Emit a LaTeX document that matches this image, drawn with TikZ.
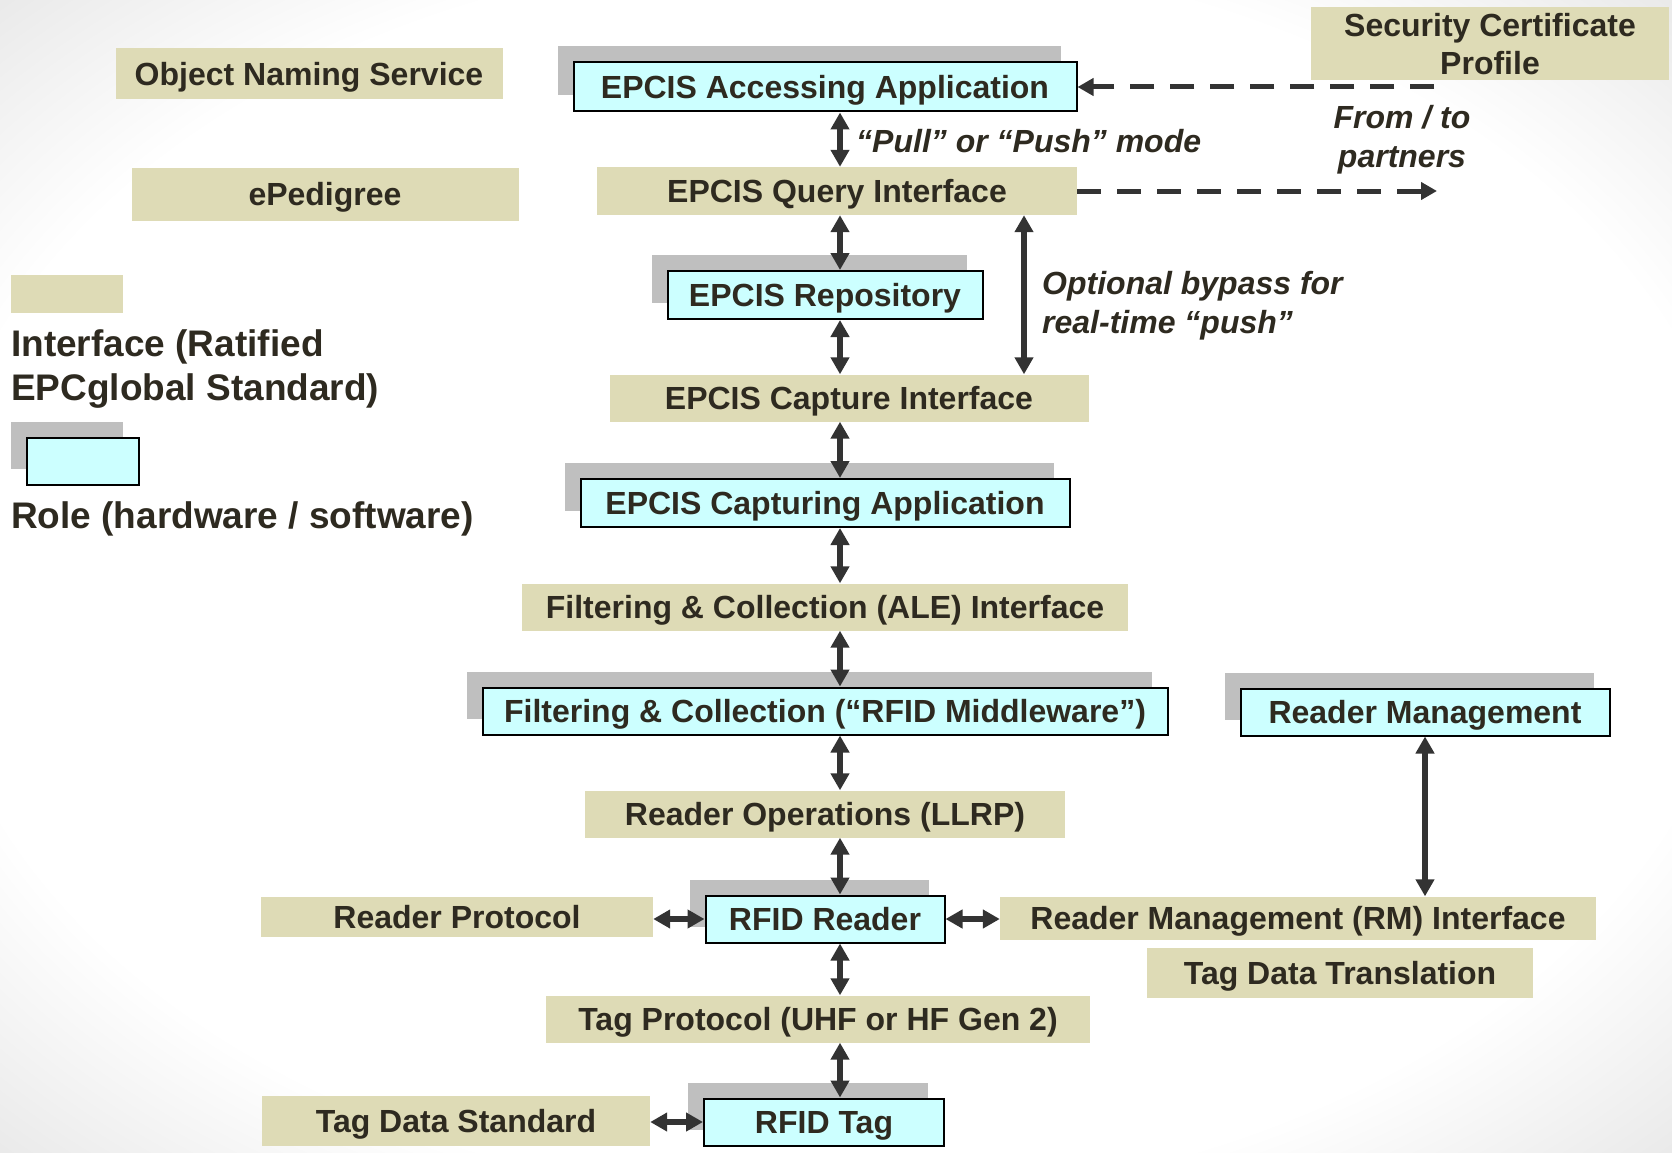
\documentclass[tikz,border=0pt]{standalone}
\usepackage{fontspec}
\setmainfont{Liberation Sans}
\usetikzlibrary{arrows.meta,shadows}
\definecolor{beige}{RGB}{222,219,182}
\definecolor{cyanbox}{RGB}{204,255,255}
\definecolor{shadowgray}{RGB}{191,191,191}
\definecolor{txt}{RGB}{46,42,32}
\definecolor{arrowgray}{RGB}{51,51,51}
\pgfdeclareradialshading{bgshade}{\pgfpoint{0bp}{0bp}}{color(0bp)=(white); color(27bp)=(white); color(36bp)=(black!9); color(50bp)=(black!9)}
\newcommand\boxfont{\fontsize{32}{38}\selectfont\bfseries}
\newcommand\italfont{\fontsize{32}{39}\selectfont\bfseries\itshape}
\newcommand\legfont{\fontsize{37}{44}\selectfont\bfseries}
\tikzset{
  iface/.style={fill=beige, inner sep=0pt, text=txt, font=\boxfont, align=center, text depth=0pt},
  role/.style={fill=cyanbox, draw=black, line width=2pt, inner sep=0pt, text=txt, font=\boxfont, text depth=0pt,
    drop shadow={shadow xshift=-16pt, shadow yshift=16pt, opacity=1, fill=shadowgray, draw=none}},
  link/.style={draw=arrowgray, line width=6pt, {Triangle[width=18pt,length=17pt]}-{Triangle[width=18pt,length=17pt]}},
  dasharrow/.style={draw=arrowgray, line width=5pt, dash pattern=on 24pt off 16pt, -{Triangle[width=17pt,length=16pt]}},
  lbl/.style={text=txt, font=\italfont, inner sep=0pt},
  legtxt/.style={text=txt, font=\legfont, inner sep=0pt, align=left}
}
\begin{document}
\begin{tikzpicture}[x=1pt,y=-1pt]
\useasboundingbox (0,0) rectangle (1672,1153);
\fill[white] (0,0) rectangle (1672,1153);
\shade[shading=bgshade] (0,0) rectangle (1672,1153);

% legend and side boxes
\node[iface, minimum width=387, minimum height=51] (ons) at (309,74) {Object Naming Service};
\node[iface, minimum width=387, minimum height=53] (ped) at (325,194) {ePedigree};
\node[iface, minimum width=358, minimum height=73] (sec) at (1490,44) {Security Certificate\\Profile};
\node[fill=beige, minimum width=112, minimum height=38, inner sep=0pt] (legif) at (67,294) {};
\node[legtxt, anchor=west] (legiftxt) at (11,369) {Interface (Ratified\\EPCglobal Standard)};
\node[role, minimum width=112, minimum height=47] (legrole) at (83,461) {};
\node[legtxt, anchor=west] (legroletxt) at (11,519) {Role (hardware / software)};

% main column
\node[role, minimum width=503, minimum height=49] (acc) at (825,87) {EPCIS Accessing Application};
\node[iface, minimum width=480, minimum height=48] (query) at (837,191) {EPCIS Query Interface};
\node[role, minimum width=315, minimum height=48] (repo) at (825,295) {EPCIS Repository};
\node[iface, minimum width=479, minimum height=47] (capture) at (849,398) {EPCIS Capture Interface};
\node[role, minimum width=489, minimum height=48] (capturing) at (825,503) {EPCIS Capturing Application};
\node[iface, minimum width=606, minimum height=47] (ale) at (825,607) {Filtering \& Collection (ALE) Interface};
\node[role, minimum width=685, minimum height=47] (mw) at (825,711) {Filtering \& Collection (“RFID Middleware”)};
\node[role, minimum width=369, minimum height=47] (rmgmt) at (1425,712) {Reader Management};
\node[iface, minimum width=480, minimum height=47] (llrp) at (825,814) {Reader Operations (LLRP)};
\node[role, minimum width=239, minimum height=47] (reader) at (825,919) {RFID Reader};
\node[iface, minimum width=392, minimum height=40] (rproto) at (457,917) {Reader Protocol};
\node[iface, minimum width=596, minimum height=43] (rmif) at (1298,918) {Reader Management (RM) Interface};
\node[iface, minimum width=386, minimum height=50] (tdt) at (1340,973) {Tag Data Translation};
\node[iface, minimum width=544, minimum height=47] (tagproto) at (818,1019) {Tag Protocol (UHF or HF Gen 2)};
\node[role, minimum width=240, minimum height=47] (tag) at (824,1122) {RFID Tag};
\node[iface, minimum width=388, minimum height=50] (tds) at (456,1121) {Tag Data Standard};

% labels
\node[lbl, anchor=west] (pull) at (856,141) {“Pull” or “Push” mode};
\node[lbl, align=center] (partnerslbl) at (1402,140) {From / to\\partners};
\node[lbl, align=left, anchor=west] (bypasslbl) at (1042,306) {Optional bypass for\\real-time “push”};

% coordinates
\coordinate (col) at (840,0);
\coordinate (bycol) at (1024,0);
\coordinate (secend) at (1434,87);
\coordinate (partners) at (1437,191);

% connectors
\draw[link] (acc.south -| col) -- (query.north -| col);
\draw[link] (query.south -| col) -- (repo.north -| col);
\draw[link] (repo.south -| col) -- (capture.north -| col);
\draw[link] (capture.south -| col) -- (capturing.north -| col);
\draw[link] (capturing.south -| col) -- (ale.north -| col);
\draw[link] (ale.south -| col) -- (mw.north -| col);
\draw[link] (mw.south -| col) -- (llrp.north -| col);
\draw[link] (llrp.south -| col) -- (reader.north -| col);
\draw[link] (reader.south -| col) -- (tagproto.north -| col);
\draw[link] (tagproto.south -| col) -- (tag.north -| col);
\draw[link] (query.south -| bycol) -- (capture.north -| bycol);
\draw[link] (rproto.east |- reader.west) -- (reader.west);
\draw[link] (reader.east) -- (rmif.west |- reader.east);
\draw[link] (tds.east |- tag.west) -- (tag.west);
\draw[link] (rmgmt.south) -- (rmif.north -| rmgmt.south);
\draw[dasharrow] (secend) -- (acc.east);
\draw[dasharrow] (query.east) -- (partners);
\end{tikzpicture}
\end{document}
